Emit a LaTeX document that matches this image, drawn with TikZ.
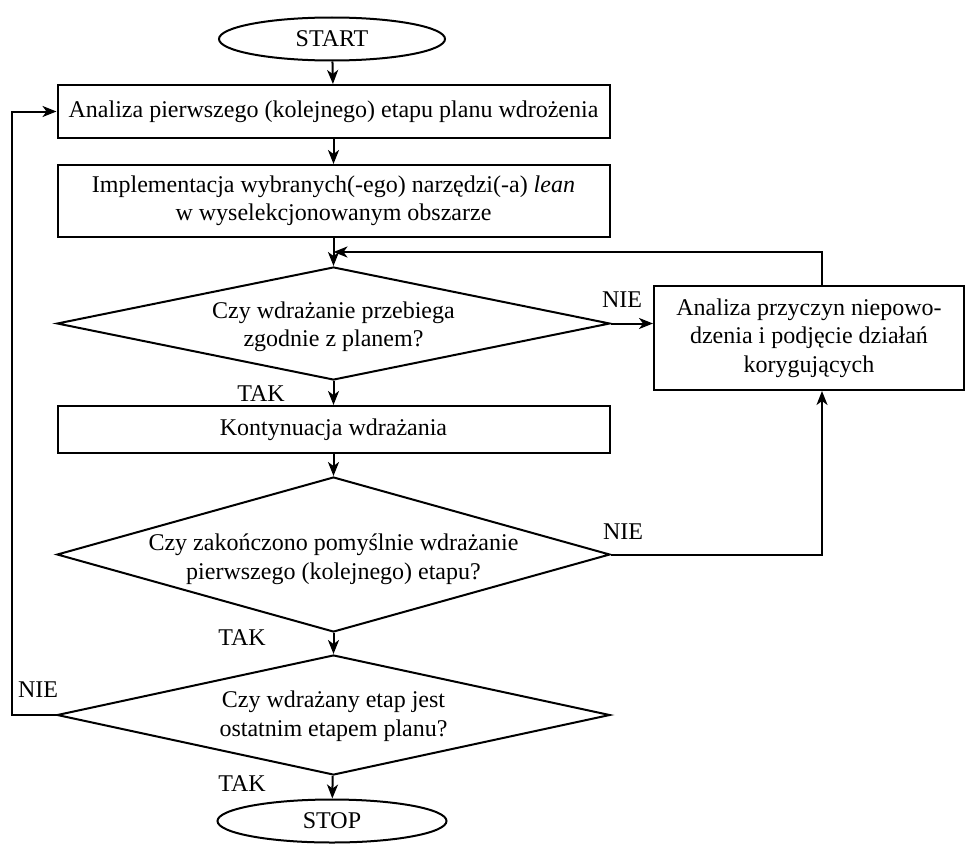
\documentclass[tikz,border=0pt]{standalone}
\usepackage{fontspec}
\setmainfont{Liberation Serif}
\usetikzlibrary{shapes.geometric,arrows.meta,calc}
\begin{document}
\begin{tikzpicture}[x=1pt,y=-1pt,
  every node/.style={font=\fontsize{24}{28.5}\selectfont},
  line width=2pt,
  stepbox/.style={draw, rectangle, align=center, inner sep=0pt, minimum width=552pt},
  term/.style={draw, ellipse, inner sep=0pt},
  dia/.style={draw, diamond, inner sep=0pt, minimum width=553pt},
  txt/.style={align=center, inner sep=0pt},
  lbl/.style={inner sep=0pt},
  arr/.style={-{Stealth[length=14pt,width=11pt,inset=4pt]}}
]
\useasboundingbox (0,0) rectangle (965,843);

\node[term, minimum width=226pt, minimum height=43pt] (start) at (332,39) {START};
\node[stepbox, minimum height=53pt] (b1) at (333.5,111.5) {Analiza pierwszego (kolejnego) etapu planu wdrożenia};
\node[stepbox, minimum height=72pt] (b2) at (333.5,201) {Implementacja wybranych(-ego) narzędzi(-a) \textit{lean}\\ w wyselekcjonowanym obszarze};
\node[dia, shape aspect=4.9, minimum height=113pt] (d1) at (333.5,323.5) {};
\node[txt] (d1t) at (333.5,327) {Czy wdrażanie przebiega\\ zgodnie z planem?};
\node[stepbox, minimum width=310pt, minimum height=104pt] (r) at (809,338) {Analiza przyczyn niepowo-\\dzenia i podjęcie działań\\ korygujących};
\node[stepbox, minimum height=47pt] (b3) at (333.5,429.5) {Kontynuacja wdrażania};
\node[dia, shape aspect=3.56, minimum height=155pt] (d2) at (333.5,554.5) {};
\node[txt] (d2t) at (333.5,559) {Czy zakończono pomyślnie wdrażanie\\ pierwszego (kolejnego) etapu?};
\node[dia, shape aspect=4.6, minimum height=120pt] (d3) at (333.5,715) {};
\node[txt] (d3t) at (333.5,716) {Czy wdrażany etap jest\\ ostatnim etapem planu?};
\node[term, minimum width=229pt, minimum height=43pt] (stop) at (332,821) {STOP};

\node[lbl] (tak1) at (261,394) {TAK};
\node[lbl] (tak2) at (242,638) {TAK};
\node[lbl] (tak3) at (242,784) {TAK};
\node[lbl] (nie1) at (622,300) {NIE};
\node[lbl] (nie2) at (623,532) {NIE};
\node[lbl] (nie3) at (38,690) {NIE};

\coordinate (loop) at (333.5,252);
\coordinate (rt) at (822,252);
\coordinate (lft) at (12,715);

\draw[arr] (start) -- (b1);
\draw[arr] (b1) -- (b2);
\draw[arr] (b2) -- (d1);
\draw[arr] (d1.east) -- (d1.east -| r.west);
\draw[arr] (r.north -| rt) -- (rt) -- (loop);
\draw[arr] (d1) -- (b3);
\draw[arr] (b3) -- (d2);
\draw[arr] (d2.east) -| (r.south -| rt);
\draw[arr] (d2) -- (d3);
\draw[arr] (d3.west) -- (lft) |- (b1.west);
\draw[arr] (d3) -- (stop);
\end{tikzpicture}
\end{document}
